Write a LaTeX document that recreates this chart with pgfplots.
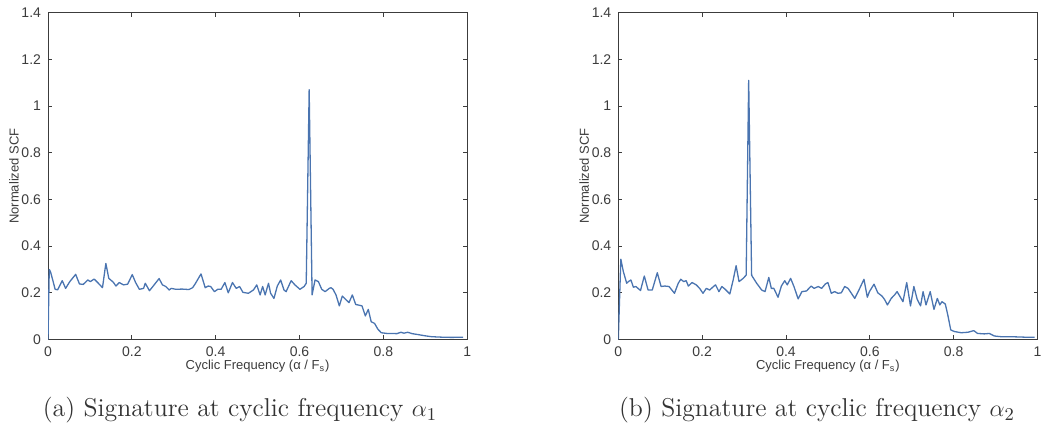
\documentclass[border=0pt]{standalone}
\usepackage{fontspec}
\usepackage{pgfplots}
\pgfplotsset{compat=1.18}
\newfontfamily\arial{Liberation Sans}
\definecolor{matblue}{HTML}{4A74B0}
\definecolor{frame}{HTML}{3C3C3C}

\pgfplotstableread{
x y
0 0
0.003 0.30
0.006 0.29
0.012 0.25
0.017 0.215
0.023 0.213
0.034 0.252
0.042 0.219
0.052 0.248
0.066 0.279
0.075 0.238
0.084 0.236
0.095 0.255
0.101 0.248
0.110 0.259
0.118 0.245
0.130 0.222
0.138 0.326
0.145 0.262
0.156 0.245
0.162 0.229
0.170 0.244
0.180 0.234
0.190 0.237
0.201 0.278
0.209 0.244
0.218 0.215
0.228 0.219
0.232 0.241
0.242 0.209
0.251 0.229
0.265 0.261
0.273 0.234
0.281 0.227
0.289 0.212
0.294 0.219
0.305 0.215
0.320 0.216
0.336 0.214
0.345 0.222
0.351 0.238
0.365 0.281
0.375 0.222
0.382 0.229
0.388 0.227
0.397 0.205
0.405 0.215
0.413 0.215
0.422 0.244
0.430 0.200
0.440 0.244
0.449 0.219
0.457 0.227
0.465 0.202
0.478 0.198
0.490 0.212
0.498 0.234
0.506 0.191
0.512 0.227
0.518 0.191
0.526 0.241
0.531 0.198
0.539 0.176
0.547 0.229
0.555 0.255
0.563 0.212
0.568 0.205
0.580 0.252
0.589 0.234
0.601 0.215
0.611 0.227
0.616 0.241
0.623 1.07
0.630 0.191
0.637 0.255
0.645 0.248
0.653 0.215
0.661 0.205
0.671 0.219
0.675 0.222
0.680 0.215
0.687 0.191
0.695 0.144
0.702 0.186
0.710 0.172
0.718 0.158
0.726 0.191
0.734 0.150
0.742 0.147
0.749 0.144
0.757 0.101
0.764 0.129
0.771 0.076
0.779 0.069
0.787 0.044
0.795 0.029
0.808 0.026
0.820 0.026
0.832 0.025
0.842 0.031
0.849 0.027
0.858 0.031
0.869 0.025
0.883 0.021
0.899 0.016
0.915 0.012
0.939 0.010
0.963 0.009
0.990 0.010
}\scfa

\pgfplotstableread{
x y
0 0
0.006 0.344
0.012 0.291
0.020 0.241
0.024 0.248
0.030 0.255
0.036 0.224
0.042 0.227
0.047 0.219
0.053 0.210
0.062 0.272
0.071 0.212
0.081 0.212
0.093 0.286
0.102 0.227
0.111 0.229
0.121 0.227
0.134 0.198
0.143 0.241
0.149 0.258
0.156 0.248
0.162 0.252
0.167 0.229
0.176 0.244
0.186 0.234
0.194 0.219
0.202 0.198
0.210 0.219
0.218 0.212
0.227 0.227
0.232 0.234
0.240 0.205
0.247 0.227
0.255 0.215
0.266 0.195
0.274 0.255
0.281 0.316
0.288 0.248
0.298 0.262
0.305 0.276
0.311 1.11
0.318 0.275
0.330 0.241
0.342 0.212
0.350 0.205
0.359 0.266
0.365 0.219
0.371 0.219
0.381 0.181
0.389 0.229
0.397 0.252
0.403 0.234
0.411 0.262
0.419 0.227
0.429 0.174
0.438 0.205
0.449 0.208
0.460 0.229
0.467 0.219
0.477 0.227
0.485 0.219
0.494 0.238
0.500 0.244
0.508 0.198
0.516 0.205
0.524 0.198
0.532 0.200
0.540 0.227
0.548 0.219
0.556 0.198
0.564 0.176
0.574 0.212
0.586 0.258
0.594 0.181
0.599 0.205
0.610 0.237
0.619 0.200
0.629 0.186
0.635 0.172
0.642 0.148
0.651 0.176
0.659 0.191
0.665 0.205
0.672 0.184
0.679 0.162
0.688 0.244
0.697 0.144
0.705 0.227
0.713 0.172
0.721 0.144
0.727 0.205
0.734 0.148
0.744 0.205
0.753 0.129
0.761 0.176
0.767 0.148
0.772 0.162
0.780 0.152
0.786 0.105
0.793 0.041
0.802 0.034
0.818 0.029
0.834 0.031
0.848 0.038
0.857 0.026
0.873 0.024
0.885 0.026
0.897 0.015
0.913 0.012
0.937 0.012
0.969 0.010
0.993 0.010
}\scfb

\pgfplotsset{
  scfaxis/.style={
    scale only axis,
    anchor=south west,
    width=209.6pt,
    height=163.4pt,
    xmin=0, xmax=1,
    ymin=0, ymax=1.4,
    xtick={0,0.2,0.4,0.6,0.8,1},
    ytick={0,0.2,0.4,0.6,0.8,1,1.2,1.4},
    tick align=inside,
    major tick length=2pt,
    axis line style={draw=frame,line width=0.5pt},
    tick style={draw=frame,line width=0.4pt},
    /pgf/number format/assume math mode=true,
    tick label style={font=\arial\fontsize{7}{8}\selectfont,text=frame},
    label style={font=\arial\fontsize{6.5}{7.5}\selectfont,text=frame},
    xlabel={Cyclic Frequency (α / F\textsubscript{s})},
    ylabel={Normalized SCF},
    xlabel style={at={(axis description cs:0.5,0)},anchor=center,yshift=-13.5pt},
    ylabel style={at={(axis description cs:0,0.5)},anchor=center,rotate=0,yshift=17pt},
  },
  scfline/.style={draw=matblue,line width=0.65pt,mark=none,line join=round},
}

\begin{document}
\begin{tikzpicture}
\useasboundingbox (0,0) rectangle (521pt,216.5pt);
\begin{axis}[scfaxis, at={(24pt,46.75pt)}]
\addplot[scfline] table[x=x,y=y] {\scfa};
\end{axis}
\begin{axis}[scfaxis, at={(309.15pt,46.75pt)}]
\addplot[scfline] table[x=x,y=y] {\scfb};
\end{axis}
\node[font=\fontsize{12.9}{15}\selectfont,text=black!80] at (120pt,11.5pt) {(a) Signature at cyclic frequency $\alpha_1$};
\node[font=\fontsize{12.9}{15}\selectfont,text=black!80] at (408.5pt,11.5pt) {(b) Signature at cyclic frequency $\alpha_2$};
\end{tikzpicture}
\end{document}
